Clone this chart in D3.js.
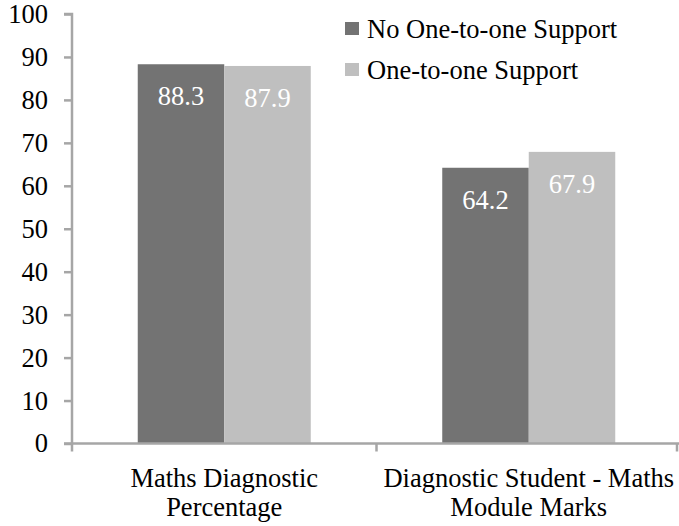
<!DOCTYPE html>
<meta charset="utf-8">
<script src="https://d3js.org/d3.v7.min.js"></script>
<style>
body { margin: 0; background: #fff; }
text { font-family: "Liberation Serif", "Times New Roman", serif; }
</style>
<body>
<div id="chart"></div>
<script>
// data
var categories = [["Maths Diagnostic", "Percentage"], ["Diagnostic Student - Maths", "Module Marks"]];
var series = ["No One-to-one Support", "One-to-one Support"];
var noSupport = [88.3, 64.2];
var withSupport = [87.9, 67.9];
var yTicks = [0, 10, 20, 30, 40, 50, 60, 70, 80, 90, 100];
var colors = ["#737373", "#bfbfbf"];

var width = 679, height = 526;
var plotLeft = 72, plotTop = 14, plotBottom = 443.5, plotRight = 681;
var fontSize = "26.5px";

var svg = d3.select("#chart").append("svg")
  .attr("width", width)
  .attr("height", height);

var keys = categories.map(function(d, i) { return i; });

var x0 = d3.scaleBand().domain(keys).range([plotLeft, plotRight]).padding(0);
var x1 = d3.scaleBand().domain(series).range([0, x0.bandwidth()])
  .paddingInner(0).paddingOuter(0.76);
var y = d3.scaleLinear().domain([0, 100]).range([plotBottom, plotTop]);

var rows = keys.map(function(i) {
  return [noSupport[i], withSupport[i]];
});

// bars
var groups = svg.selectAll(".grp")
  .data(rows)
  .enter().append("g")
    .attr("transform", function(d, i) { return "translate(" + x0(i) + ",0)"; });

groups.selectAll("rect")
  .data(function(d) { return d.map(function(v, j) { return {s: series[j], v: v, j: j}; }); })
  .enter().append("rect")
    .attr("x", function(d) { return x1(d.s); })
    .attr("width", x1.bandwidth())
    .attr("y", function(d) { return y(d.v); })
    .attr("height", function(d) { return y(0) - y(d.v); })
    .attr("fill", function(d) { return colors[d.j]; });

groups.selectAll(".lbl")
  .data(function(d) { return d.map(function(v, j) { return {s: series[j], v: v}; }); })
  .enter().append("text")
    .attr("x", function(d) { return x1(d.s) + x1.bandwidth() / 2; })
    .attr("y", function(d) { return y(d.v) + 41; })
    .attr("text-anchor", "middle")
    .attr("fill", "#fff")
    .style("font-size", fontSize)
    .text(function(d) { return d.v.toFixed(1); });

// y axis
var yAxis = svg.append("g")
  .attr("transform", "translate(" + plotLeft + ",0)")
  .call(d3.axisLeft(y).tickValues(yTicks).tickSize(8).tickPadding(16));
yAxis.selectAll("line, path").attr("stroke", "#a6a6a6").attr("stroke-width", 2.5);
yAxis.select("path").attr("d", "M-8," + plotTop + "H0V" + plotBottom);
yAxis.selectAll("text").style("font-size", fontSize).attr("fill", "#000");

// x axis
var xAxis = svg.append("g")
  .attr("transform", "translate(0," + plotBottom + ")");
xAxis.append("line")
  .attr("x1", plotLeft - 8).attr("x2", plotRight)
  .attr("stroke", "#a6a6a6").attr("stroke-width", 2.5);
xAxis.selectAll(".xt")
  .data([plotLeft, x0(1), plotRight - 4])
  .enter().append("line")
    .attr("x1", function(d) { return d; }).attr("x2", function(d) { return d; })
    .attr("y1", 0).attr("y2", 8)
    .attr("stroke", "#a6a6a6").attr("stroke-width", 2.5);

xAxis.selectAll(".cat")
  .data(categories)
  .enter().append("text")
    .attr("x", function(d, i) { return x0(i) + x0.bandwidth() / 2; })
    .attr("y", 43)
    .attr("text-anchor", "middle")
    .style("font-size", fontSize)
    .each(function(d) {
      var t = d3.select(this);
      d.forEach(function(line, k) {
        t.append("tspan")
          .attr("x", t.attr("x"))
          .attr("dy", k === 0 ? 0 : 29)
          .text(line);
      });
    });

// legend
var legend = svg.selectAll(".leg")
  .data(series)
  .enter().append("g")
    .attr("transform", function(d, i) { return "translate(345," + (22 + i * 41) + ")"; });
legend.append("rect")
  .attr("width", 14).attr("height", 13)
  .attr("fill", function(d, i) { return colors[i]; });
legend.append("text")
  .attr("x", 22).attr("y", 16)
  .style("font-size", fontSize)
  .text(function(d) { return d; });
</script>
</body>
